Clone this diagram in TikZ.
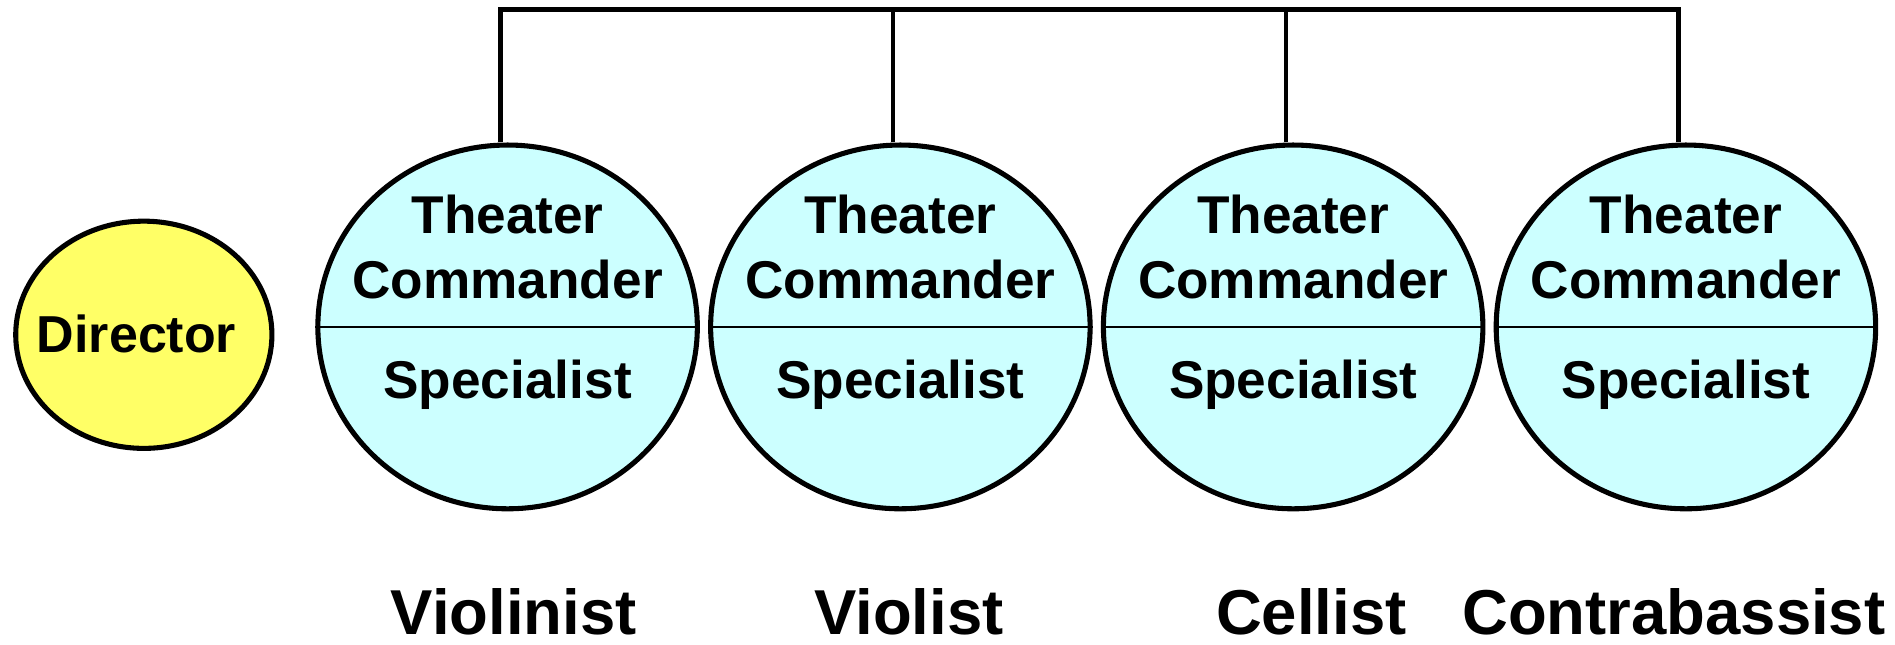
\documentclass[tikz,border=0pt]{standalone}
\usepackage{fontspec}
\setmainfont{Liberation Sans}
\usetikzlibrary{shapes.geometric}
\definecolor{cyanfill}{HTML}{CCFFFF}
\definecolor{yellowfill}{HTML}{FFFF66}
\begin{document}
\begin{tikzpicture}[x=1pt,y=-1pt,
  role/.style={ellipse,draw=black,line width=4.2pt,fill=cyanfill,minimum width=314pt,minimum height=301pt,inner sep=0pt},
  boss/.style={ellipse,draw=black,line width=4.2pt,fill=yellowfill,minimum width=212pt,minimum height=188pt,inner sep=0pt},
  intext/.style={font=\bfseries\fontsize{44}{44}\selectfont,anchor=base,inner sep=0pt},
  lab/.style={font=\bfseries\fontsize{52.5}{52.5}\selectfont,anchor=base,inner sep=0pt},
  conn/.style={draw=black,line width=3.8pt},
  divider/.style={draw=black,line width=1.6pt}]
\useasboundingbox (0,0) rectangle (1568,533);
\coordinate (top) at (0,8);
% Director
\node[boss] (dir) at (119,277) {};
\node[intext,font=\bfseries\fontsize{43}{43}\selectfont] (dirt) at (113,292) {Director};
% Role ellipses
\foreach \i/\x in {1/420,2/745,3/1070,4/1395}{
  \node[role] (e\i) at (\x,270.5) {};
  \draw[divider] (e\i.west) -- (e\i.east);
  \node[intext] (th\i) at (\x,193) {Theater};
  \node[intext] (cm\i) at (\x,247) {Commander};
  \node[intext] (sp\i) at (\x,330) {Specialist};
}
% connectors
\coordinate (c1) at ([xshift=-6pt]e1.north);
\coordinate (c2) at ([xshift=-6pt]e2.north);
\coordinate (c3) at ([xshift=-6pt]e3.north);
\coordinate (c4) at ([xshift=-6pt]e4.north);
\draw[conn,line join=miter] (c1) -- (c1 |- top) -- (c4 |- top) -- (c4);
\draw[conn] (c2) -- (c2 |- top);
\draw[conn] (c3) -- (c3 |- top);
% bottom labels
\node[lab] (l1) at (425,525) {Violinist};
\node[lab] (l2) at (752,525) {Violist};
\node[lab] (l3) at (1085,525) {Cellist};
\node[lab] (l4) at (1385,525) {Contrabassist};
\end{tikzpicture}
\end{document}
